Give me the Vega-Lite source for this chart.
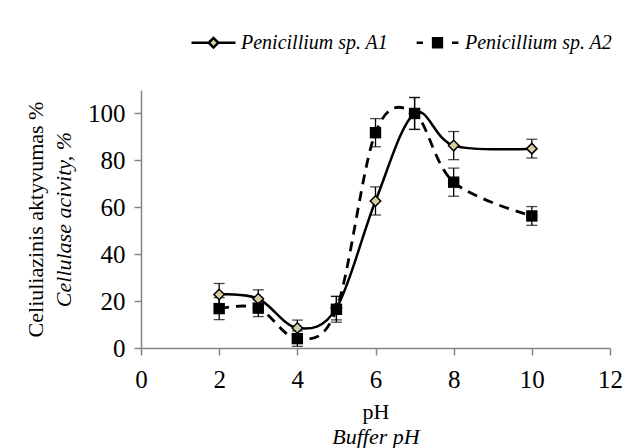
{
  "$schema": "https://vega.github.io/schema/vega-lite/v6.json",
  "width": 469,
  "height": 258,
  "autosize": "none",
  "padding": {"left": 141, "top": 90, "right": 13, "bottom": 100},
  "background": "white",
  "config": {
    "view": {"stroke": null},
    "font": "Liberation Serif",
    "axis": {
      "labelFont": "Liberation Serif",
      "titleFont": "Liberation Serif",
      "labelFontSize": 25,
      "titleFontSize": 22,
      "labelColor": "black",
      "titleColor": "black",
      "titleFontWeight": "normal",
      "domainColor": "#868686",
      "tickColor": "#868686",
      "domainWidth": 1.5,
      "tickWidth": 1.5,
      "labelFlush": false,
      "grid": false
    },
    "legend": {
      "labelFont": "Liberation Serif",
      "labelFontSize": 20,
      "labelLimit": 400
    }
  },
  "data": {
    "values": [
      {"pH": 2, "activity": 22.8, "err": 4.7, "series": "A1"},
      {"pH": 3, "activity": 21, "err": 3.8, "series": "A1"},
      {"pH": 4, "activity": 8.5, "err": 3.4, "series": "A1"},
      {"pH": 5, "activity": 17, "err": 5, "series": "A1"},
      {"pH": 6, "activity": 62.7, "err": 6, "series": "A1"},
      {"pH": 7, "activity": 100, "err": 6.8, "series": "A1"},
      {"pH": 8, "activity": 86.3, "err": 6, "series": "A1"},
      {"pH": 10, "activity": 85, "err": 4, "series": "A1"},
      {"pH": 2, "activity": 16.8, "err": 4.7, "series": "A2"},
      {"pH": 3, "activity": 17, "err": 3.6, "series": "A2"},
      {"pH": 4, "activity": 4, "err": 3.3, "series": "A2"},
      {"pH": 5, "activity": 16.5, "err": 5.5, "series": "A2"},
      {"pH": 6, "activity": 91.8, "err": 6, "series": "A2"},
      {"pH": 7, "activity": 100, "err": 6.8, "series": "A2"},
      {"pH": 8, "activity": 70.7, "err": 6, "series": "A2"},
      {"pH": 10, "activity": 56.3, "err": 4, "series": "A2"}
    ]
  },
  "resolve": {"axis": {"x": "independent", "y": "independent"}},
  "layer": [
    {
      "transform": [{"filter": "datum.series === 'A1'"}],
      "mark": {"type": "line", "interpolate": "cardinal", "color": "black", "strokeWidth": 2.5},
      "encoding": {
        "x": {"field": "pH", "type": "quantitative", "scale": {"domain": [0, 12], "nice": false},
          "axis": {"values": [0, 2, 4, 6, 8, 10, 12], "title": "pH", "tickSize": 7, "labelPadding": 12, "titlePadding": 9}},
        "y": {"field": "activity", "type": "quantitative", "scale": {"domain": [0, 110], "nice": false},
          "axis": {"values": [0, 20, 40, 60, 80, 100], "title": "Cellulase acivity, %", "titleFontStyle": "italic", "tickSize": 7, "labelPadding": 9, "titlePadding": 12}}
      }
    },
    {
      "transform": [{"filter": "datum.series === 'A2'"}],
      "mark": {"type": "line", "interpolate": "cardinal", "color": "black", "strokeWidth": 2.8, "strokeDash": [10, 7]},
      "encoding": {
        "x": {"field": "pH", "type": "quantitative", "scale": {"domain": [0, 12], "nice": false},
          "axis": {"title": "Buffer pH", "titleFontStyle": "italic", "orient": "bottom", "labels": false, "ticks": false, "domain": false, "titlePadding": 78}},
        "y": {"field": "activity", "type": "quantitative", "scale": {"domain": [0, 110], "nice": false},
          "axis": {"title": "Celiuliazinis aktyvumas %", "orient": "left", "labels": false, "ticks": false, "domain": false, "titlePadding": 94}}
      }
    },
    {
      "mark": {"type": "errorbar", "ticks": {"size": 11, "color": "black"}, "color": "black", "thickness": 1.3},
      "encoding": {
        "x": {"field": "pH", "type": "quantitative", "scale": {"domain": [0, 12], "nice": false}, "axis": null},
        "y": {"field": "activity", "type": "quantitative", "scale": {"domain": [0, 110], "nice": false}, "axis": null},
        "yError": {"field": "err"}
      }
    },
    {
      "transform": [{"filter": "datum.series === 'A1'"}],
      "mark": {"type": "point", "shape": "diamond", "filled": true, "fill": "#d6cda0", "stroke": "black", "strokeWidth": 1.5, "size": 110, "opacity": 1},
      "encoding": {
        "x": {"field": "pH", "type": "quantitative", "scale": {"domain": [0, 12], "nice": false}, "axis": null},
        "y": {"field": "activity", "type": "quantitative", "scale": {"domain": [0, 110], "nice": false}, "axis": null}
      }
    },
    {
      "transform": [{"filter": "datum.series === 'A2'"}],
      "mark": {"type": "point", "shape": "square", "filled": true, "fill": "black", "size": 130, "opacity": 1},
      "encoding": {
        "x": {"field": "pH", "type": "quantitative", "scale": {"domain": [0, 12], "nice": false}, "axis": null},
        "y": {"field": "activity", "type": "quantitative", "scale": {"domain": [0, 110], "nice": false}, "axis": null}
      }
    },
    {
      "mark": {"type": "point", "filled": true, "opacity": 0, "strokeWidth": 2.5},
      "encoding": {
        "x": {"field": "pH", "type": "quantitative", "scale": {"domain": [0, 12], "nice": false}, "axis": null},
        "y": {"field": "activity", "type": "quantitative", "scale": {"domain": [0, 110], "nice": false}, "axis": null},
        "shape": {"field": "series", "type": "nominal",
          "scale": {"domain": ["A1", "A2"], "range": ["M-1,0H-0.22M0.22,0H1M-0.22,0L0,-0.22L0.22,0L0,0.22Z", "M-0.95,0H-0.66M0.66,0H0.95M-0.2,-0.2H0.2V0.2H-0.2Z"]},
          "legend": {"title": null, "orient": "none", "legendX": 49, "legendY": -71, "direction": "horizontal",
            "labelExpr": "'Penicillium sp. ' + datum.label",
            "labelFontStyle": "italic", "labelColor": "black", "labelLimit": 400,
            "symbolSize": 1936, "symbolOpacity": 1, "symbolStrokeWidth": 2.5, "labelOffset": 4, "columnPadding": 22, "padding": 0}},
        "fill": {"field": "series", "type": "nominal", "scale": {"domain": ["A1", "A2"], "range": ["#d6cda0", "black"]},
          "legend": {"title": null, "orient": "none", "legendX": 49, "legendY": -71, "direction": "horizontal",
            "labelExpr": "'Penicillium sp. ' + datum.label",
            "labelFontStyle": "italic", "labelColor": "black", "labelLimit": 400,
            "symbolSize": 1936, "symbolOpacity": 1, "symbolStrokeWidth": 2.5, "labelOffset": 4, "columnPadding": 22, "padding": 0}},
        "stroke": {"field": "series", "type": "nominal", "scale": {"domain": ["A1", "A2"], "range": ["black", "black"]},
          "legend": {"title": null, "orient": "none", "legendX": 49, "legendY": -71, "direction": "horizontal",
            "labelExpr": "'Penicillium sp. ' + datum.label",
            "labelFontStyle": "italic", "labelColor": "black", "labelLimit": 400,
            "symbolSize": 1936, "symbolOpacity": 1, "symbolStrokeWidth": 2.5, "labelOffset": 4, "columnPadding": 22, "padding": 0}}
      }
    }
  ]
}
